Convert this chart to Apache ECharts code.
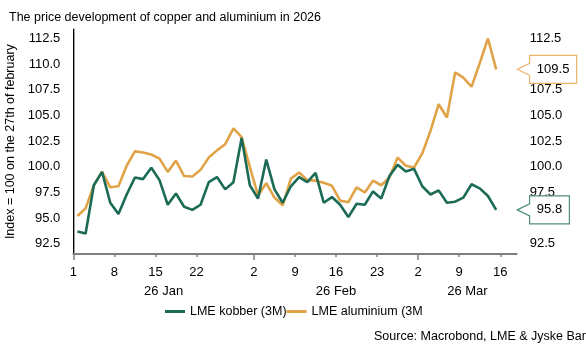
<!DOCTYPE html>
<html>
<head>
<meta charset="utf-8">
<script src="https://cdn.jsdelivr.net/npm/echarts@6/dist/echarts.min.js"></script>
<style>
html,body{margin:0;padding:0;background:#fff;}
#c{width:586px;height:355px;}
</style>
</head>
<body>
<div id="c"></div>
<script>
// ---- data ----
const copper = [93.7, 93.5, 98.2, 99.5, 96.5, 95.4, 97.3, 98.95, 98.8, 99.9,
  98.7, 96.3, 97.4, 96.1, 95.8, 96.3, 98.5, 99.0, 97.8, 98.5,
  102.8, 98.2, 96.9, 100.7, 97.8, 96.5, 98.1, 99.0, 98.5, 99.4,
  96.5, 97.05, 96.3, 95.1, 96.4, 96.3, 97.6, 96.9, 99.1, 100.2,
  99.55, 99.8, 98.1, 97.3, 97.7, 96.5, 96.6, 97.0, 98.3, 97.9,
  97.15, 95.8];
const aluminium = [95.2, 95.95, 98.2, 99.5, 98.0, 98.1, 100.1, 101.5, 101.4, 101.2,
  100.8, 99.5, 100.6, 99.1, 99.05, 99.7, 100.9, 101.6, 102.2, 103.75,
  102.9, 100.0, 97.2, 98.4, 97.0, 96.25, 98.85, 99.45, 98.7, 98.65,
  98.45, 98.15, 96.7, 96.55, 98.0, 97.5, 98.65, 98.2, 98.95, 100.9,
  100.1, 99.93, 101.3, 103.5, 106.1, 104.8, 109.2, 108.7, 107.8, 110.1,
  112.5, 109.5];
const seriesNames = ['LME kobber (3M)', 'LME aluminium (3M)'];
// trading-day positions of the date ticks (weekday index from 1 Jan)
const dayTickPos = [0, 5, 10, 15, 22, 27, 32, 37, 42, 47, 52];
const dayTickLabels = ['1', '8', '15', '22', '2', '9', '16', '23', '2', '9', '16'];
const monthStarts = [0, 22, 42];
const monthLabels = ['26 Jan', '26 Feb', '26 Mar'];
const axisEnd = 54;
const yTicks = [92.5, 95.0, 97.5, 100.0, 102.5, 105.0, 107.5, 110.0, 112.5];

// ---- styling ----
const FONT = 'Liberation Sans';
const GREEN = '#1b6b56';
const ORANGE = '#e1a347';
const monthMids = monthStarts.map((s, i) => (s + (monthStarts[i + 1] !== undefined ? monthStarts[i + 1] : axisEnd)) / 2);

const chart = echarts.init(document.getElementById('c'), null, {renderer: 'canvas'});
const toPts = arr => arr.map((v, i) => [i + 0.5, v]);

chart.setOption({
  animation: false,
  backgroundColor: '#fff',
  textStyle: {fontFamily: FONT},
  title: {
    text: 'The price development of copper and aluminium in 2026',
    left: 9, top: 11, padding: 0,
    textStyle: {fontFamily: FONT, fontSize: 12.5, fontWeight: 'normal', color: '#000'}
  },
  grid: {left: 73.3, right: 69.3, top: 29.3, bottom: 101, outerBoundsMode: 'none', containLabel: false},
  legend: {
    left: 165, top: 305, padding: 0, itemGap: 0, itemWidth: 20, itemHeight: 3, icon: 'rect',
    textStyle: {fontFamily: FONT, fontSize: 12.5, color: '#000'},
    data: [
      {name: seriesNames[0]},
      {name: seriesNames[1], textStyle: {width: 113, overflow: 'truncate', ellipsis: ''}}
    ]
  },
  xAxis: [{
    type: 'value', min: 0, max: axisEnd, position: 'bottom',
    splitLine: {show: false},
    axisLine: {show: true, lineStyle: {color: '#7f7f7f', width: 2}},
    axisTick: {show: true, customValues: dayTickPos, length: 3, lineStyle: {color: '#7f7f7f', width: 1.5}},
    axisLabel: {customValues: dayTickPos, margin: 12, fontSize: 13, color: '#000', fontFamily: FONT,
      formatter: v => dayTickLabels[dayTickPos.indexOf(v)]}
  }, {
    type: 'value', min: 0, max: axisEnd, position: 'bottom',
    splitLine: {show: false},
    axisLine: {show: false},
    axisTick: {show: true, customValues: monthStarts, length: 6, lineStyle: {color: '#7f7f7f', width: 1.5}},
    axisLabel: {customValues: monthMids, margin: 31, fontSize: 13, color: '#000', fontFamily: FONT,
      formatter: v => monthLabels[monthMids.indexOf(v)]}
  }],
  yAxis: [{
    type: 'value', min: 91.5, max: 113.4, position: 'left',
    splitLine: {show: false},
    axisLine: {show: true, lineStyle: {color: '#7f7f7f', width: 1.5}},
    axisTick: {show: false},
    axisLabel: {customValues: yTicks, margin: 13, fontSize: 13, color: '#000', fontFamily: FONT,
      formatter: v => v.toFixed(1)},
    name: 'Index = 100 on the 27th of february',
    nameLocation: 'middle', nameRotate: 90, nameGap: 49,
    nameTextStyle: {fontSize: 12.5, color: '#000', fontFamily: FONT}
  }, {
    type: 'value', min: 91.5, max: 113.4, position: 'right',
    splitLine: {show: false},
    axisLine: {show: true, lineStyle: {color: '#000', width: 1}},
    axisTick: {show: false},
    axisLabel: {customValues: yTicks, margin: 13, fontSize: 13, color: '#000', fontFamily: FONT,
      formatter: v => v.toFixed(1)}
  }],
  series: [{
    name: seriesNames[0], type: 'line', data: toPts(copper),
    showSymbol: false, symbol: 'none', color: GREEN,
    lineStyle: {color: GREEN, width: 2.6}, z: 3
  }, {
    name: seriesNames[1], type: 'line', data: toPts(aluminium),
    showSymbol: false, symbol: 'none', color: ORANGE,
    lineStyle: {color: ORANGE, width: 2.6}, z: 2
  }]
});

// ---- callout boxes at the right axis showing the last values ----
const measure = (() => {
  const ctx = document.createElement('canvas').getContext('2d');
  return (t, size) => { ctx.font = size + 'px ' + FONT; return ctx.measureText(t).width; };
})();
function callout(value, border) {
  const p = chart.convertToPixel({gridIndex: 0}, [axisEnd, value]);
  const tipX = p[0] + 0.6, y = p[1];
  const txt = value.toFixed(1);
  const bx = tipX + 12.3;
  const w = measure(txt, 13) + 14.5;
  const h = 28;
  return [{
    type: 'polygon', z: 100, zlevel: 1,
    shape: {points: [[tipX, y], [bx, y - 6], [bx, y - h / 2], [bx + w, y - h / 2], [bx + w, y + h / 2], [bx, y + h / 2], [bx, y + 6]]},
    style: {fill: '#fff', stroke: border, lineWidth: 1.2}
  }, {
    type: 'text', z: 101, zlevel: 1,
    style: {text: txt, x: bx + w / 2, y: y, align: 'center', verticalAlign: 'middle',
      fontSize: 13, fontFamily: FONT, fill: '#000'}
  }];
}
chart.setOption({
  graphic: [].concat(
    callout(aluminium[aluminium.length - 1], '#eab56a'),
    callout(copper[copper.length - 1], '#4f8f7c'),
    [{type: 'text', left: 374, top: 330, z: 100,
      style: {text: 'Source: Macrobond, LME & Jyske Bank', fontSize: 12.5, fontFamily: FONT, fill: '#000'}}]
  )
});
</script>
</body>
</html>
